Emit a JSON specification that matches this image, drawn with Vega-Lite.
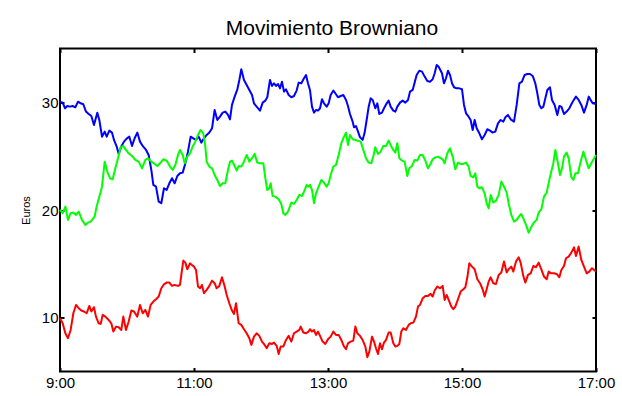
{
  "$schema": "https://vega.github.io/schema/vega-lite/v6.json",
  "width": 536,
  "height": 323,
  "autosize": "none",
  "padding": {"left": 60, "top": 48.5, "right": 26, "bottom": 24.5},
  "background": "#ffffff",
  "title": {
    "text": "Movimiento Browniano",
    "font": "Liberation Sans",
    "fontSize": 21,
    "fontWeight": "normal",
    "color": "#000000",
    "anchor": "middle",
    "dx": 4,
    "offset": 9
  },
  "datasets": {
    "azul": [
      {"t":9.000,"v":30.06},{"t":9.040,"v":29.97},{"t":9.075,"v":29.45},{"t":9.109,"v":29.66},{"t":9.149,"v":29.60},
      {"t":9.189,"v":29.66},{"t":9.229,"v":29.54},{"t":9.269,"v":30.06},{"t":9.308,"v":29.91},{"t":9.348,"v":29.82},
      {"t":9.388,"v":29.14},{"t":9.428,"v":28.92},{"t":9.468,"v":28.73},{"t":9.507,"v":27.90},{"t":9.557,"v":29.04},
      {"t":9.587,"v":28.36},{"t":9.627,"v":26.81},{"t":9.667,"v":27.28},{"t":9.697,"v":26.81},{"t":9.736,"v":27.37},
      {"t":9.776,"v":27.19},{"t":9.806,"v":26.51},{"t":9.846,"v":25.89},{"t":9.876,"v":25.21},{"t":9.915,"v":25.89},
      {"t":9.955,"v":26.35},{"t":9.995,"v":26.63},{"t":10.035,"v":26.81},{"t":10.075,"v":25.95},{"t":10.114,"v":26.66},
      {"t":10.154,"v":27.19},{"t":10.194,"v":26.35},{"t":10.234,"v":25.95},{"t":10.284,"v":25.58},{"t":10.323,"v":25.11},
      {"t":10.363,"v":23.72},{"t":10.393,"v":22.33},{"t":10.433,"v":22.17},{"t":10.473,"v":20.78},{"t":10.512,"v":20.63},
      {"t":10.552,"v":22.02},{"t":10.592,"v":21.86},{"t":10.632,"v":22.48},{"t":10.672,"v":22.95},{"t":10.711,"v":22.48},
      {"t":10.751,"v":23.16},{"t":10.791,"v":23.41},{"t":10.831,"v":23.47},{"t":10.871,"v":24.34},{"t":10.910,"v":25.42},
      {"t":10.950,"v":26.81},{"t":10.990,"v":26.66},{"t":11.030,"v":26.51},{"t":11.070,"v":26.81},{"t":11.109,"v":26.26},
      {"t":11.149,"v":26.66},{"t":11.189,"v":26.97},{"t":11.229,"v":27.19},{"t":11.269,"v":27.59},{"t":11.308,"v":29.29},
      {"t":11.348,"v":28.36},{"t":11.388,"v":28.67},{"t":11.428,"v":29.04},{"t":11.468,"v":29.14},{"t":11.507,"v":28.83},
      {"t":11.537,"v":28.42},{"t":11.567,"v":29.76},{"t":11.607,"v":30.53},{"t":11.647,"v":31.21},{"t":11.677,"v":32.08},
      {"t":11.706,"v":33.07},{"t":11.746,"v":32.08},{"t":11.786,"v":31.61},{"t":11.826,"v":31.15},{"t":11.866,"v":30.68},
      {"t":11.895,"v":29.91},{"t":11.935,"v":29.60},{"t":11.985,"v":29.23},{"t":12.025,"v":29.97},{"t":12.065,"v":30.16},
      {"t":12.094,"v":30.47},{"t":12.134,"v":32.08},{"t":12.164,"v":31.52},{"t":12.194,"v":31.77},{"t":12.224,"v":31.52},
      {"t":12.254,"v":31.70},{"t":12.284,"v":31.30},{"t":12.313,"v":31.92},{"t":12.343,"v":30.99},{"t":12.373,"v":31.21},
      {"t":12.413,"v":30.68},{"t":12.453,"v":30.47},{"t":12.492,"v":30.59},{"t":12.532,"v":31.09},{"t":12.562,"v":31.83},
      {"t":12.602,"v":31.77},{"t":12.642,"v":32.23},{"t":12.672,"v":32.54},{"t":12.701,"v":31.77},{"t":12.731,"v":31.15},
      {"t":12.761,"v":29.60},{"t":12.791,"v":29.04},{"t":12.821,"v":29.29},{"t":12.851,"v":29.23},{"t":12.881,"v":29.45},
      {"t":12.910,"v":30.28},{"t":12.940,"v":29.91},{"t":12.980,"v":29.60},{"t":13.010,"v":29.91},{"t":13.040,"v":30.68},
      {"t":13.080,"v":31.09},{"t":13.109,"v":30.84},{"t":13.149,"v":30.47},{"t":13.189,"v":30.59},{"t":13.229,"v":30.68},
      {"t":13.269,"v":30.22},{"t":13.298,"v":29.66},{"t":13.328,"v":28.92},{"t":13.368,"v":28.21},{"t":13.388,"v":27.68},
      {"t":13.418,"v":27.80},{"t":13.448,"v":27.28},{"t":13.478,"v":26.75},{"t":13.517,"v":26.51},{"t":13.547,"v":27.19},
      {"t":13.577,"v":28.36},{"t":13.607,"v":29.60},{"t":13.637,"v":30.37},{"t":13.667,"v":30.22},{"t":13.706,"v":29.45},
      {"t":13.736,"v":29.91},{"t":13.766,"v":28.92},{"t":13.806,"v":29.04},{"t":13.836,"v":29.45},{"t":13.876,"v":29.91},
      {"t":13.905,"v":30.16},{"t":13.935,"v":29.60},{"t":13.975,"v":29.23},{"t":14.005,"v":29.14},{"t":14.035,"v":29.60},
      {"t":14.075,"v":29.97},{"t":14.114,"v":30.16},{"t":14.154,"v":29.97},{"t":14.194,"v":30.22},{"t":14.224,"v":30.99},
      {"t":14.264,"v":31.15},{"t":14.293,"v":31.83},{"t":14.323,"v":32.54},{"t":14.363,"v":32.94},{"t":14.403,"v":32.85},
      {"t":14.443,"v":32.39},{"t":14.482,"v":31.98},{"t":14.522,"v":31.92},{"t":14.562,"v":32.14},{"t":14.592,"v":32.70},
      {"t":14.622,"v":33.47},{"t":14.652,"v":33.31},{"t":14.701,"v":32.70},{"t":14.731,"v":31.77},{"t":14.761,"v":32.23},
      {"t":14.791,"v":32.94},{"t":14.821,"v":32.54},{"t":14.851,"v":31.77},{"t":14.881,"v":31.40},{"t":14.920,"v":31.30},
      {"t":14.960,"v":31.30},{"t":15.000,"v":31.21},{"t":15.030,"v":29.76},{"t":15.060,"v":28.98},{"t":15.099,"v":28.67},
      {"t":15.129,"v":28.36},{"t":15.159,"v":27.43},{"t":15.189,"v":28.36},{"t":15.219,"v":27.59},{"t":15.259,"v":27.12},
      {"t":15.298,"v":26.57},{"t":15.338,"v":26.97},{"t":15.378,"v":27.50},{"t":15.418,"v":27.37},{"t":15.458,"v":27.19},
      {"t":15.497,"v":27.28},{"t":15.537,"v":28.05},{"t":15.577,"v":28.36},{"t":15.617,"v":28.21},{"t":15.647,"v":28.61},
      {"t":15.686,"v":28.83},{"t":15.726,"v":28.42},{"t":15.776,"v":28.21},{"t":15.816,"v":29.76},{"t":15.856,"v":31.77},
      {"t":15.895,"v":31.92},{"t":15.935,"v":32.54},{"t":15.975,"v":32.63},{"t":16.015,"v":32.63},{"t":16.055,"v":32.45},
      {"t":16.094,"v":31.77},{"t":16.124,"v":30.84},{"t":16.154,"v":29.76},{"t":16.184,"v":29.45},{"t":16.214,"v":29.60},
      {"t":16.244,"v":30.37},{"t":16.274,"v":31.15},{"t":16.313,"v":31.40},{"t":16.343,"v":30.22},{"t":16.383,"v":29.76},
      {"t":16.423,"v":28.83},{"t":16.453,"v":29.66},{"t":16.483,"v":29.60},{"t":16.522,"v":28.92},{"t":16.562,"v":29.14},
      {"t":16.602,"v":29.45},{"t":16.652,"v":30.06},{"t":16.701,"v":30.53},{"t":16.741,"v":30.22},{"t":16.781,"v":29.76},
      {"t":16.821,"v":29.04},{"t":16.861,"v":29.76},{"t":16.891,"v":30.53},{"t":16.920,"v":30.22},{"t":16.950,"v":29.91},
      {"t":17.000,"v":29.85}
    ],
    "verde": [
      {"t":9.000,"v":20.01},{"t":9.040,"v":19.70},{"t":9.080,"v":20.32},{"t":9.119,"v":19.08},{"t":9.159,"v":19.70},
      {"t":9.199,"v":19.76},{"t":9.239,"v":19.54},{"t":9.279,"v":19.85},{"t":9.328,"v":19.08},{"t":9.378,"v":18.61},
      {"t":9.418,"v":18.83},{"t":9.458,"v":18.92},{"t":9.517,"v":19.39},{"t":9.547,"v":20.32},{"t":9.587,"v":21.24},
      {"t":9.627,"v":22.17},{"t":9.667,"v":24.49},{"t":9.706,"v":23.57},{"t":9.746,"v":22.95},{"t":9.786,"v":22.85},
      {"t":9.826,"v":23.87},{"t":9.866,"v":24.80},{"t":9.905,"v":25.82},{"t":9.945,"v":25.95},{"t":9.985,"v":25.58},
      {"t":10.025,"v":25.27},{"t":10.075,"v":25.02},{"t":10.124,"v":24.65},{"t":10.174,"v":24.49},{"t":10.224,"v":23.87},
      {"t":10.274,"v":24.65},{"t":10.313,"v":24.80},{"t":10.363,"v":24.49},{"t":10.413,"v":24.28},{"t":10.453,"v":24.09},
      {"t":10.493,"v":24.34},{"t":10.542,"v":24.71},{"t":10.592,"v":24.59},{"t":10.642,"v":24.03},{"t":10.682,"v":23.72},
      {"t":10.721,"v":24.18},{"t":10.761,"v":25.11},{"t":10.791,"v":25.58},{"t":10.831,"v":25.11},{"t":10.861,"v":24.34},
      {"t":10.900,"v":24.96},{"t":10.940,"v":25.27},{"t":10.980,"v":25.89},{"t":11.020,"v":26.35},{"t":11.060,"v":26.97},
      {"t":11.099,"v":27.43},{"t":11.139,"v":27.12},{"t":11.169,"v":25.89},{"t":11.189,"v":24.49},{"t":11.229,"v":24.03},
      {"t":11.269,"v":23.87},{"t":11.308,"v":23.25},{"t":11.348,"v":22.79},{"t":11.388,"v":22.23},{"t":11.428,"v":22.48},
      {"t":11.468,"v":22.48},{"t":11.507,"v":23.72},{"t":11.537,"v":24.49},{"t":11.567,"v":24.59},{"t":11.607,"v":24.09},
      {"t":11.637,"v":23.66},{"t":11.667,"v":24.09},{"t":11.706,"v":24.03},{"t":11.746,"v":24.49},{"t":11.786,"v":25.11},
      {"t":11.826,"v":24.49},{"t":11.866,"v":24.80},{"t":11.905,"v":25.21},{"t":11.945,"v":24.40},{"t":11.985,"v":24.34},
      {"t":12.035,"v":24.34},{"t":12.065,"v":22.95},{"t":12.094,"v":21.86},{"t":12.124,"v":22.02},{"t":12.144,"v":22.48},
      {"t":12.174,"v":21.30},{"t":12.214,"v":21.24},{"t":12.264,"v":20.99},{"t":12.303,"v":20.56},{"t":12.333,"v":19.70},
      {"t":12.363,"v":19.54},{"t":12.403,"v":19.85},{"t":12.453,"v":20.69},{"t":12.492,"v":20.56},{"t":12.532,"v":20.93},
      {"t":12.572,"v":21.40},{"t":12.612,"v":21.30},{"t":12.642,"v":21.71},{"t":12.682,"v":22.33},{"t":12.711,"v":22.17},
      {"t":12.731,"v":22.33},{"t":12.761,"v":21.86},{"t":12.791,"v":20.63},{"t":12.821,"v":21.55},{"t":12.861,"v":22.17},
      {"t":12.900,"v":22.79},{"t":12.940,"v":22.54},{"t":12.980,"v":22.17},{"t":13.010,"v":22.48},{"t":13.040,"v":23.25},
      {"t":13.080,"v":24.03},{"t":13.119,"v":24.18},{"t":13.159,"v":25.11},{"t":13.199,"v":26.20},{"t":13.239,"v":26.81},
      {"t":13.269,"v":27.19},{"t":13.298,"v":26.04},{"t":13.328,"v":26.97},{"t":13.368,"v":26.57},{"t":13.408,"v":26.51},
      {"t":13.448,"v":26.44},{"t":13.488,"v":26.35},{"t":13.527,"v":25.58},{"t":13.567,"v":24.80},{"t":13.607,"v":24.40},
      {"t":13.647,"v":24.34},{"t":13.677,"v":25.02},{"t":13.706,"v":25.82},{"t":13.746,"v":25.21},{"t":13.786,"v":25.42},
      {"t":13.826,"v":25.95},{"t":13.866,"v":25.95},{"t":13.905,"v":26.44},{"t":13.945,"v":25.89},{"t":13.975,"v":25.58},
      {"t":14.005,"v":25.33},{"t":14.035,"v":26.20},{"t":14.065,"v":24.80},{"t":14.104,"v":24.59},{"t":14.144,"v":24.49},
      {"t":14.184,"v":23.16},{"t":14.214,"v":23.87},{"t":14.254,"v":24.09},{"t":14.293,"v":24.65},{"t":14.333,"v":24.59},
      {"t":14.373,"v":25.11},{"t":14.413,"v":25.11},{"t":14.453,"v":24.59},{"t":14.492,"v":23.87},{"t":14.522,"v":24.18},
      {"t":14.562,"v":24.71},{"t":14.602,"v":24.89},{"t":14.642,"v":24.96},{"t":14.711,"v":24.71},{"t":14.741,"v":24.34},
      {"t":14.781,"v":25.27},{"t":14.821,"v":25.73},{"t":14.861,"v":24.96},{"t":14.900,"v":23.78},{"t":14.940,"v":24.40},
      {"t":14.980,"v":24.28},{"t":15.020,"v":24.28},{"t":15.060,"v":24.40},{"t":15.099,"v":24.03},{"t":15.129,"v":23.16},
      {"t":15.169,"v":23.04},{"t":15.199,"v":23.41},{"t":15.229,"v":22.17},{"t":15.259,"v":22.02},{"t":15.298,"v":22.11},
      {"t":15.338,"v":21.55},{"t":15.368,"v":20.63},{"t":15.398,"v":20.16},{"t":15.428,"v":21.40},{"t":15.468,"v":20.69},
      {"t":15.507,"v":20.87},{"t":15.547,"v":21.40},{"t":15.587,"v":22.64},{"t":15.627,"v":22.17},{"t":15.667,"v":21.61},
      {"t":15.696,"v":20.63},{"t":15.736,"v":19.54},{"t":15.776,"v":18.92},{"t":15.816,"v":19.08},{"t":15.856,"v":19.45},
      {"t":15.885,"v":19.63},{"t":15.925,"v":19.08},{"t":15.965,"v":18.46},{"t":15.995,"v":17.90},{"t":16.025,"v":18.30},
      {"t":16.065,"v":18.77},{"t":16.114,"v":19.08},{"t":16.144,"v":19.76},{"t":16.184,"v":20.07},{"t":16.224,"v":21.24},
      {"t":16.264,"v":21.61},{"t":16.303,"v":22.79},{"t":16.333,"v":23.57},{"t":16.363,"v":24.34},{"t":16.393,"v":25.58},
      {"t":16.423,"v":24.65},{"t":16.463,"v":23.25},{"t":16.493,"v":23.87},{"t":16.522,"v":24.96},{"t":16.562,"v":25.33},
      {"t":16.592,"v":24.80},{"t":16.632,"v":23.04},{"t":16.662,"v":22.79},{"t":16.692,"v":23.41},{"t":16.731,"v":23.41},
      {"t":16.771,"v":24.49},{"t":16.811,"v":25.42},{"t":16.851,"v":24.65},{"t":16.891,"v":23.87},{"t":16.930,"v":24.34},
      {"t":17.000,"v":25.11}
    ],
    "rojo": [
      {"t":9.000,"v":9.95},{"t":9.040,"v":9.48},{"t":9.080,"v":8.55},{"t":9.119,"v":8.09},{"t":9.159,"v":8.86},
      {"t":9.199,"v":10.41},{"t":9.239,"v":11.18},{"t":9.279,"v":10.88},{"t":9.318,"v":10.66},{"t":9.358,"v":10.57},
      {"t":9.398,"v":10.41},{"t":9.438,"v":11.09},{"t":9.468,"v":10.57},{"t":9.507,"v":10.97},{"t":9.537,"v":10.10},
      {"t":9.577,"v":9.48},{"t":9.607,"v":9.42},{"t":9.637,"v":10.26},{"t":9.677,"v":10.10},{"t":9.726,"v":9.79},
      {"t":9.766,"v":9.48},{"t":9.796,"v":8.71},{"t":9.836,"v":9.17},{"t":9.876,"v":9.11},{"t":9.915,"v":8.86},
      {"t":9.945,"v":10.10},{"t":9.985,"v":8.86},{"t":10.025,"v":9.64},{"t":10.065,"v":10.66},{"t":10.104,"v":10.57},
      {"t":10.154,"v":10.10},{"t":10.194,"v":11.18},{"t":10.234,"v":10.41},{"t":10.274,"v":10.72},{"t":10.313,"v":10.10},
      {"t":10.353,"v":11.18},{"t":10.393,"v":11.49},{"t":10.433,"v":11.71},{"t":10.473,"v":11.96},{"t":10.512,"v":12.73},
      {"t":10.552,"v":13.10},{"t":10.592,"v":13.26},{"t":10.632,"v":13.26},{"t":10.672,"v":12.95},{"t":10.711,"v":13.04},
      {"t":10.761,"v":12.95},{"t":10.791,"v":13.04},{"t":10.821,"v":14.43},{"t":10.841,"v":15.30},{"t":10.871,"v":15.11},
      {"t":10.900,"v":14.49},{"t":10.940,"v":15.05},{"t":10.970,"v":14.89},{"t":11.000,"v":14.74},{"t":11.030,"v":14.43},
      {"t":11.060,"v":12.89},{"t":11.090,"v":12.73},{"t":11.119,"v":13.04},{"t":11.149,"v":12.27},{"t":11.189,"v":12.58},
      {"t":11.229,"v":12.95},{"t":11.269,"v":13.44},{"t":11.308,"v":13.20},{"t":11.338,"v":12.73},{"t":11.378,"v":12.95},
      {"t":11.418,"v":13.75},{"t":11.458,"v":12.89},{"t":11.488,"v":12.11},{"t":11.527,"v":11.34},{"t":11.567,"v":10.66},
      {"t":11.597,"v":10.35},{"t":11.627,"v":11.34},{"t":11.667,"v":9.48},{"t":11.706,"v":9.33},{"t":11.746,"v":8.93},
      {"t":11.786,"v":8.55},{"t":11.826,"v":8.09},{"t":11.856,"v":7.47},{"t":11.895,"v":8.24},{"t":11.935,"v":8.55},
      {"t":11.975,"v":8.31},{"t":12.015,"v":7.78},{"t":12.055,"v":7.47},{"t":12.085,"v":7.16},{"t":12.124,"v":7.62},
      {"t":12.164,"v":7.56},{"t":12.194,"v":7.69},{"t":12.234,"v":7.38},{"t":12.264,"v":6.63},{"t":12.294,"v":7.32},
      {"t":12.333,"v":7.32},{"t":12.373,"v":7.93},{"t":12.413,"v":8.31},{"t":12.453,"v":7.78},{"t":12.492,"v":8.55},
      {"t":12.532,"v":8.71},{"t":12.572,"v":8.86},{"t":12.592,"v":9.17},{"t":12.632,"v":8.62},{"t":12.672,"v":8.55},
      {"t":12.711,"v":8.71},{"t":12.731,"v":8.93},{"t":12.761,"v":8.71},{"t":12.791,"v":8.86},{"t":12.821,"v":8.40},
      {"t":12.851,"v":8.71},{"t":12.881,"v":8.31},{"t":12.920,"v":7.78},{"t":12.960,"v":7.56},{"t":13.000,"v":7.99},
      {"t":13.040,"v":8.24},{"t":13.080,"v":8.71},{"t":13.119,"v":8.40},{"t":13.159,"v":8.40},{"t":13.199,"v":7.93},
      {"t":13.239,"v":7.32},{"t":13.269,"v":7.07},{"t":13.298,"v":7.62},{"t":13.338,"v":7.78},{"t":13.378,"v":7.87},
      {"t":13.408,"v":9.17},{"t":13.438,"v":8.55},{"t":13.478,"v":8.31},{"t":13.517,"v":7.93},{"t":13.557,"v":7.32},
      {"t":13.587,"v":6.33},{"t":13.617,"v":6.85},{"t":13.657,"v":8.24},{"t":13.687,"v":7.78},{"t":13.716,"v":7.16},
      {"t":13.746,"v":6.63},{"t":13.776,"v":7.62},{"t":13.806,"v":7.07},{"t":13.836,"v":7.69},{"t":13.866,"v":7.93},
      {"t":13.905,"v":8.62},{"t":13.935,"v":8.62},{"t":13.975,"v":7.62},{"t":14.005,"v":7.32},{"t":14.035,"v":7.38},
      {"t":14.065,"v":7.56},{"t":14.094,"v":8.71},{"t":14.124,"v":9.02},{"t":14.164,"v":8.86},{"t":14.204,"v":9.33},
      {"t":14.234,"v":9.48},{"t":14.274,"v":9.54},{"t":14.313,"v":10.10},{"t":14.343,"v":11.03},{"t":14.373,"v":11.18},
      {"t":14.413,"v":11.80},{"t":14.453,"v":12.02},{"t":14.492,"v":12.02},{"t":14.532,"v":12.21},{"t":14.562,"v":11.96},
      {"t":14.592,"v":12.52},{"t":14.632,"v":12.89},{"t":14.672,"v":12.73},{"t":14.711,"v":12.95},{"t":14.741,"v":11.65},
      {"t":14.771,"v":12.11},{"t":14.801,"v":11.65},{"t":14.841,"v":11.03},{"t":14.871,"v":10.78},{"t":14.900,"v":11.03},
      {"t":14.940,"v":11.71},{"t":14.980,"v":12.42},{"t":15.020,"v":12.64},{"t":15.050,"v":12.83},{"t":15.080,"v":13.75},
      {"t":15.109,"v":15.05},{"t":15.149,"v":14.74},{"t":15.189,"v":14.49},{"t":15.229,"v":13.57},{"t":15.269,"v":13.20},
      {"t":15.308,"v":12.64},{"t":15.338,"v":11.96},{"t":15.368,"v":12.64},{"t":15.398,"v":13.35},{"t":15.428,"v":13.75},
      {"t":15.468,"v":13.20},{"t":15.507,"v":13.13},{"t":15.547,"v":13.97},{"t":15.587,"v":14.19},{"t":15.627,"v":15.21},
      {"t":15.667,"v":14.19},{"t":15.696,"v":14.49},{"t":15.736,"v":14.74},{"t":15.766,"v":14.28},{"t":15.806,"v":15.21},
      {"t":15.846,"v":15.61},{"t":15.875,"v":15.11},{"t":15.915,"v":13.88},{"t":15.945,"v":13.26},{"t":15.985,"v":13.97},
      {"t":16.025,"v":14.12},{"t":16.065,"v":14.80},{"t":16.104,"v":14.68},{"t":16.144,"v":15.11},{"t":16.184,"v":14.49},
      {"t":16.224,"v":13.82},{"t":16.264,"v":13.57},{"t":16.294,"v":14.28},{"t":16.333,"v":14.12},{"t":16.373,"v":14.12},
      {"t":16.413,"v":14.06},{"t":16.453,"v":13.75},{"t":16.483,"v":14.43},{"t":16.522,"v":14.80},{"t":16.552,"v":15.52},
      {"t":16.592,"v":15.67},{"t":16.632,"v":16.04},{"t":16.672,"v":16.53},{"t":16.701,"v":15.73},{"t":16.741,"v":16.60},
      {"t":16.781,"v":15.36},{"t":16.821,"v":14.74},{"t":16.861,"v":14.12},{"t":16.900,"v":14.28},{"t":16.940,"v":14.59},
      {"t":17.000,"v":14.28}
    ]
  },
  "layer": [
    {
      "data": {"name": "azul"},
      "mark": {"type": "line", "color": "#0000ff", "strokeWidth": 2, "strokeJoin": "round"},
      "encoding": {
        "x": {
          "field": "t", "type": "quantitative",
          "scale": {"domain": [9, 17], "nice": false, "zero": false},
          "axis": {
            "orient": "bottom", "title": null, "values": [9, 11, 13, 15, 17],
            "labelExpr": "datum.value + ':00'", "labelPadding": 8
          }
        },
        "y": {
          "field": "v", "type": "quantitative",
          "scale": {"domain": [5, 35], "nice": false, "zero": false},
          "axis": {
            "orient": "left", "title": "Euros", "values": [10, 20, 30],
            "titleFontSize": 11, "titlePadding": 10
          }
        }
      }
    },
    {
      "data": {"name": "verde"},
      "mark": {"type": "line", "color": "#00ff00", "strokeWidth": 2, "strokeJoin": "round"},
      "encoding": {
        "x": {"field": "t", "type": "quantitative", "scale": {"domain": [9, 17], "nice": false, "zero": false}, "axis": null},
        "y": {"field": "v", "type": "quantitative", "scale": {"domain": [5, 35], "nice": false, "zero": false}, "axis": null}
      }
    },
    {
      "data": {"name": "rojo"},
      "mark": {"type": "line", "color": "#ff0000", "strokeWidth": 2, "strokeJoin": "round"},
      "encoding": {
        "x": {
          "field": "t", "type": "quantitative",
          "scale": {"domain": [9, 17], "nice": false, "zero": false},
          "axis": {"orient": "top", "title": null, "labels": false, "values": [9, 11, 13, 15, 17]}
        },
        "y": {
          "field": "v", "type": "quantitative",
          "scale": {"domain": [5, 35], "nice": false, "zero": false},
          "axis": {"orient": "right", "title": null, "labels": false, "values": [10, 20, 30]}
        }
      }
    }
  ],
  "resolve": {"axis": {"x": "independent", "y": "independent"}},
  "config": {
    "view": {"stroke": "#000000", "strokeWidth": 2},
    "axis": {
      "domain": false,
      "grid": false,
      "ticks": true,
      "tickSize": -4,
      "tickWidth": 2,
      "tickColor": "#000000",
      "labelFont": "Liberation Sans",
      "labelFontSize": 15,
      "labelColor": "#000000",
      "labelPadding": 6,
      "labelFlush": false,
      "labelOverlap": false,
      "labelBound": false,
      "titleFont": "Liberation Sans",
      "titleFontWeight": "normal",
      "titleColor": "#000000"
    }
  }
}
